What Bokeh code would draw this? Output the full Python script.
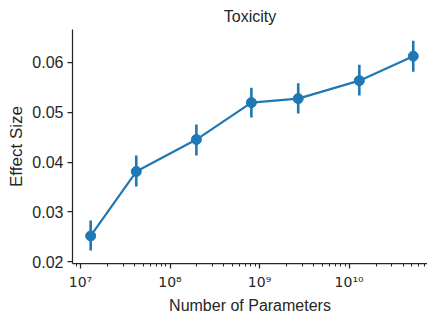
from bokeh.plotting import figure
from bokeh.embed import file_html
from bokeh.resources import INLINE
from bokeh.models import Range1d, FixedTicker, LogTicker, CustomJSTickFormatter, PrintfTickFormatter

# Data
params = [1.3e7, 4.2e7, 1.97e8, 8.1e8, 2.7e9, 1.3e10, 5.2e10]
effect = [0.0252, 0.0381, 0.0445, 0.0519, 0.0527, 0.0563, 0.0612]
err_low = [0.0223, 0.0351, 0.0413, 0.0489, 0.0497, 0.0533, 0.0581]
err_high = [0.0283, 0.0413, 0.0475, 0.0549, 0.0558, 0.0595, 0.0643]
y_ticks = [0.02, 0.03, 0.04, 0.05, 0.06]
title_text = "Toxicity"
x_label = "Number of Parameters"
y_label = "Effect Size"

TEXT = "#262626"
BLUE = "#1f77b4"
FONT = "Liberation Sans"

p = figure(width=427, height=316, x_axis_type="log",
           x_range=Range1d(8.15e6, 7.5e10), y_range=Range1d(0.01968, 0.06654),
           output_backend="svg", toolbar_location=None,
           min_border_left=72, min_border_right=0, min_border_top=29, min_border_bottom=53)

p.title.text = title_text
p.title.align = "center"
p.title.text_font = FONT
p.title.text_font_size = "16px"
p.title.text_font_style = "normal"
p.title.text_color = TEXT
p.title.offset = 2

p.outline_line_color = None
p.xgrid.grid_line_color = None
p.ygrid.grid_line_color = None

p.segment(x0=params, x1=params, y0=err_low, y1=err_high, line_color=BLUE, line_width=2.6)
p.line(params, effect, line_color=BLUE, line_width=2.2)
p.scatter(params, effect, size=10, fill_color=BLUE, line_color=BLUE)

for ax in (p.xaxis[0], p.yaxis[0]):
    ax.axis_line_color = TEXT
    ax.axis_line_width = 1.25
    ax.major_tick_line_color = TEXT
    ax.major_tick_line_width = 1.25
    ax.minor_tick_line_color = TEXT
    ax.minor_tick_line_width = 1.0
    ax.major_tick_in = 0
    ax.minor_tick_in = 0
    ax.major_label_text_color = TEXT
    ax.major_label_text_font = FONT
    ax.axis_label_text_color = TEXT
    ax.axis_label_text_font = FONT
    ax.axis_label_text_font_style = "normal"

p.yaxis.axis_label = y_label
p.yaxis.axis_label_text_font_size = "17px"
p.yaxis.ticker = FixedTicker(ticks=y_ticks)
p.yaxis.formatter = PrintfTickFormatter(format="%.2f")
p.yaxis.major_tick_out = 5
p.yaxis.minor_tick_out = 0
p.yaxis.major_label_text_font_size = "16px"
p.yaxis.major_label_standoff = 4
p.yaxis.axis_label_standoff = 3

p.xaxis.axis_label = x_label
p.xaxis.axis_label_text_font_size = "16px"
p.xaxis.axis_label_standoff = 4
p.xaxis.ticker = LogTicker(num_minor_ticks=10)
p.xaxis.formatter = CustomJSTickFormatter(code="""
const sup = {'0':'\u2070','1':'\u00b9','2':'\u00b2','3':'\u00b3','4':'\u2074','5':'\u2075','6':'\u2076','7':'\u2077','8':'\u2078','9':'\u2079','-':'\u207b'};
const e = Math.round(Math.log10(tick));
return '10' + String(e).split('').map(c => sup[c]).join('');
""")
p.xaxis.major_tick_out = 5
p.xaxis.minor_tick_out = 3
p.xaxis.major_label_text_font = "DejaVu Sans"
p.xaxis.major_label_text_font_size = "14px"
p.xaxis.major_label_standoff = 5

open("out.html", "w").write(file_html(p, INLINE))
